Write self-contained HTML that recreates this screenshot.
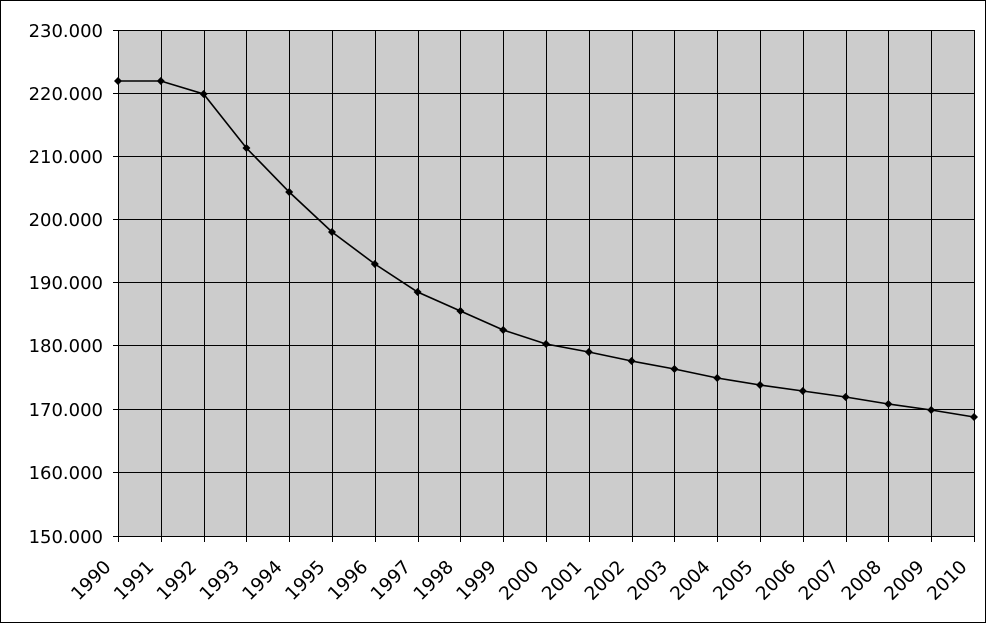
<!DOCTYPE html><html><head><style>body{margin:0;background:#fff}svg{display:block}</style></head><body>
<svg width="986" height="623" xmlns="http://www.w3.org/2000/svg" font-family="'DejaVu Sans', Verdana, sans-serif">
<rect x="0.5" y="0.5" width="985" height="622" fill="#fff" stroke="#000"/>
<rect x="118" y="30" width="856" height="506" fill="#cccccc"/>
<g stroke="#000" stroke-width="1">
<path d="M113 30.5H974M113 93.5H974M113 156.5H974M113 219.5H974M113 282.5H974M113 345.5H974M113 409.5H974M113 472.5H974M113 536.5H974"/>
<path d="M118.5 30V542M161.5 30V542M204.5 30V542M246.5 30V542M289.5 30V542M332.5 30V542M375.5 30V542M418.5 30V542M460.5 30V542M503.5 30V542M546.5 30V542M589.5 30V542M632.5 30V542M674.5 30V542M717.5 30V542M760.5 30V542M803.5 30V542M846.5 30V542M888.5 30V542M931.5 30V542M974.5 30V542"/>
</g>
<g font-size="18" text-anchor="end" fill="#000">
<text x="103" y="37">230.000</text><text x="103" y="100">220.000</text><text x="103" y="163">210.000</text><text x="103" y="226">200.000</text><text x="103" y="289">190.000</text><text x="103" y="352">180.000</text><text x="103" y="416">170.000</text><text x="103" y="479">160.000</text><text x="103" y="543">150.000</text>
</g>
<g font-size="18.5" text-anchor="end" fill="#000">
<text transform="translate(112,568) rotate(-45)">1990</text>
<text transform="translate(154.8,568) rotate(-45)">1991</text>
<text transform="translate(197.6,568) rotate(-45)">1992</text>
<text transform="translate(240.4,568) rotate(-45)">1993</text>
<text transform="translate(283.2,568) rotate(-45)">1994</text>
<text transform="translate(326,568) rotate(-45)">1995</text>
<text transform="translate(368.8,568) rotate(-45)">1996</text>
<text transform="translate(411.6,568) rotate(-45)">1997</text>
<text transform="translate(454.4,568) rotate(-45)">1998</text>
<text transform="translate(497.2,568) rotate(-45)">1999</text>
<text transform="translate(540,568) rotate(-45)">2000</text>
<text transform="translate(582.8,568) rotate(-45)">2001</text>
<text transform="translate(625.6,568) rotate(-45)">2002</text>
<text transform="translate(668.4,568) rotate(-45)">2003</text>
<text transform="translate(711.2,568) rotate(-45)">2004</text>
<text transform="translate(754,568) rotate(-45)">2005</text>
<text transform="translate(796.8,568) rotate(-45)">2006</text>
<text transform="translate(839.6,568) rotate(-45)">2007</text>
<text transform="translate(882.4,568) rotate(-45)">2008</text>
<text transform="translate(925.2,568) rotate(-45)">2009</text>
<text transform="translate(968,568) rotate(-45)">2010</text>
</g>
<polyline fill="none" stroke="#000" stroke-width="1.6" points="118,81 160.8,81 203.6,94 246.4,148 289.2,192 332,232 374.8,264 417.6,292 460.4,311 503.2,330 546,344 588.8,352 631.6,361 674.4,369 717.2,378 760,385 802.8,391 845.6,397 888.4,404 931.2,410 974,417"/>
<g fill="#000">
<path d="M118 77l4 4-4 4-4-4z"/><path d="M160.8 77l4 4-4 4-4-4z"/><path d="M203.6 90l4 4-4 4-4-4z"/><path d="M246.4 144l4 4-4 4-4-4z"/><path d="M289.2 188l4 4-4 4-4-4z"/><path d="M332 228l4 4-4 4-4-4z"/><path d="M374.8 260l4 4-4 4-4-4z"/><path d="M417.6 288l4 4-4 4-4-4z"/><path d="M460.4 307l4 4-4 4-4-4z"/><path d="M503.2 326l4 4-4 4-4-4z"/><path d="M546 340l4 4-4 4-4-4z"/><path d="M588.8 348l4 4-4 4-4-4z"/><path d="M631.6 357l4 4-4 4-4-4z"/><path d="M674.4 365l4 4-4 4-4-4z"/><path d="M717.2 374l4 4-4 4-4-4z"/><path d="M760 381l4 4-4 4-4-4z"/><path d="M802.8 387l4 4-4 4-4-4z"/><path d="M845.6 393l4 4-4 4-4-4z"/><path d="M888.4 400l4 4-4 4-4-4z"/><path d="M931.2 406l4 4-4 4-4-4z"/><path d="M974 413l4 4-4 4-4-4z"/>
</g>
</svg></body></html>
